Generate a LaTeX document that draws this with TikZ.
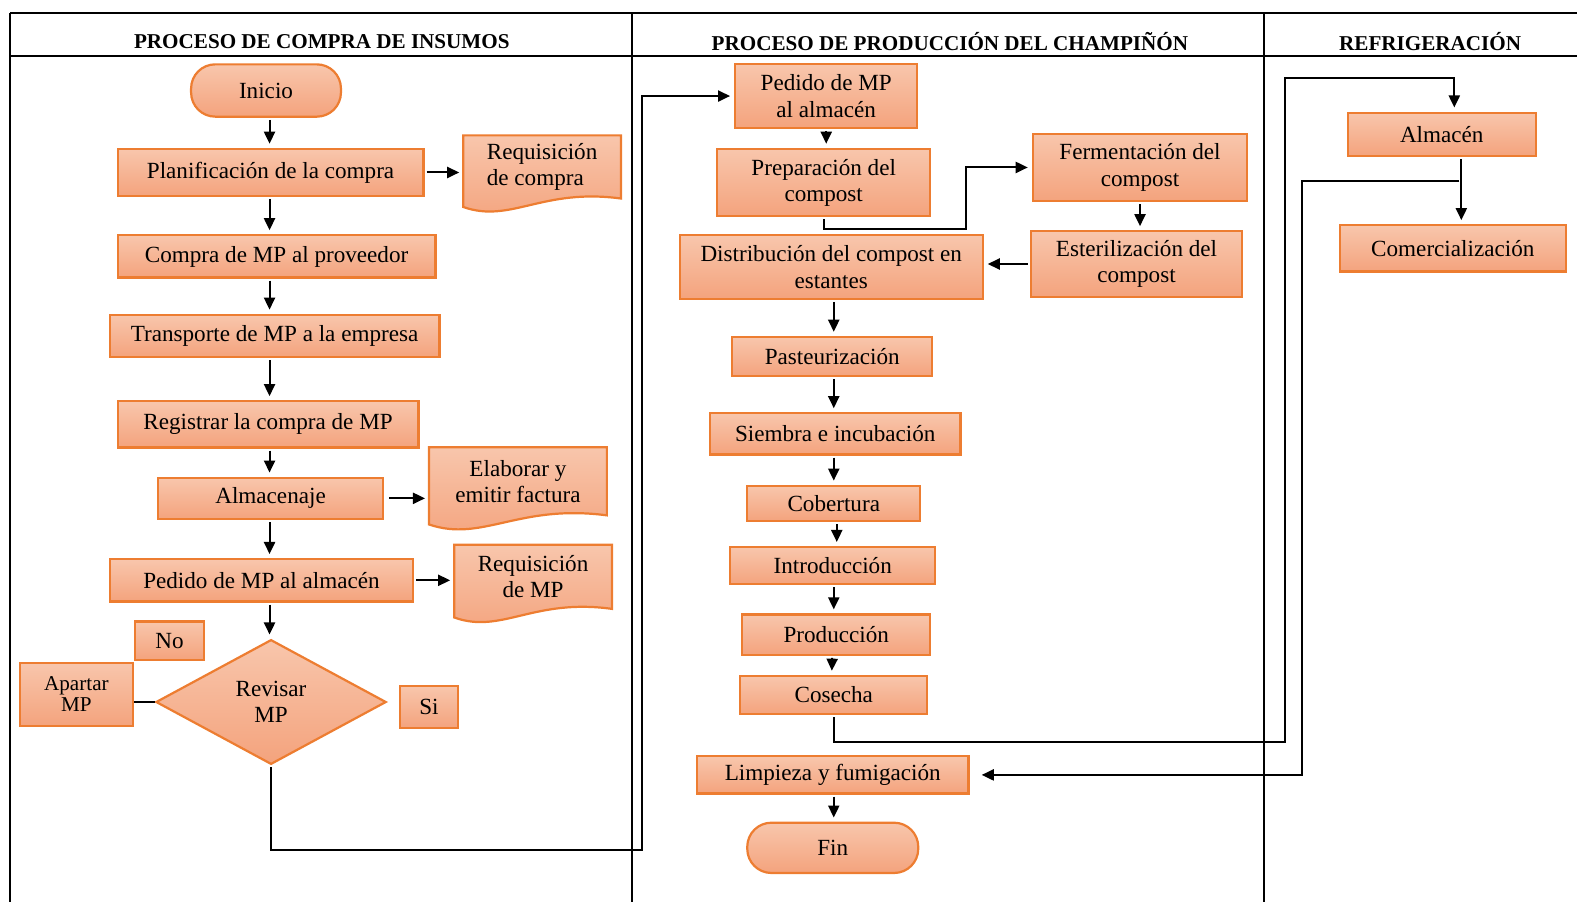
\documentclass[tikz,border=0pt]{standalone}
\usepackage{fontspec}
\setmainfont{Liberation Serif}
\usetikzlibrary{arrows.meta,shapes.geometric,calc,backgrounds}

\definecolor{naranja}{HTML}{ED7D31}
\definecolor{durazno}{HTML}{F8C6AC}
\definecolor{salmon}{HTML}{F4A37D}

\newcommand{\texto}{\fontsize{11.5}{13}\selectfont}
\newcommand{\titulo}{\fontsize{10.5}{12}\selectfont\bfseries}
\newcommand{\documento}[1]{%
  \path[hoja] let \p1=(#1.north west), \p2=(#1.south east), \n1={\x2-\x1}, \n2={\y1-\y2} in
    (\p1) -- (\x2,\y1) -- (\p2)
    .. controls ({\x1+0.5*\n1},{\y2+0.17*\n2}) and ({\x1+0.3*\n1},{\y2-0.40*\n2}) ..
    (\x1,{\y2-0.134*\n2}) -- cycle;}

\begin{document}
\begin{tikzpicture}[x=0.5pt,y=-0.5pt,
caja/.style={rectangle,draw=naranja,line width=1.1pt,top color=durazno,bottom color=salmon,align=center,inner sep=0,font=\texto},
terminal/.style={caja,rounded corners=12pt},
decision/.style={caja,diamond,aspect=1.85},
docu/.style={rectangle,align=center,inner sep=0,font=\texto},
hoja/.style={draw=naranja,line width=1.1pt,top color=durazno,bottom color=salmon},
flecha/.style={-{Triangle[length=6pt,width=5.5pt]},line width=1pt,shorten <=1pt,shorten >=2pt},
linea/.style={line width=1pt},
marco/.style={line width=0.9pt}]

\useasboundingbox (0,0) rectangle (1568,897);

% marco de los carriles
\draw[marco] (10,13) -- (1568,13);
\draw[marco] (10,56) -- (1568,56);
\draw[marco] (10,13) -- (10,897);
\draw[marco] (628,13) -- (628,897);
\draw[marco] (1257,13) -- (1257,897);
\node[font=\titulo] (tcompra) at (320,41) {PROCESO DE COMPRA DE INSUMOS};
\node[font=\titulo] (tproduccion) at (944.5,41) {PROCESO DE PRODUCCIÓN DEL CHAMPIÑÓN};
\node[font=\titulo] (trefrigeracion) at (1422,41) {REFRIGERACIÓN};

% compra de insumos
\coordinate (eje) at (268,0);
\node[terminal, minimum width=74.5pt, minimum height=26pt] (inicio) at (264.5,90) {Inicio};
\node[caja, minimum width=152pt, minimum height=23.5pt] (planif) at (269,171.5) {Planificación de la compra};
\node[docu, align=left, minimum width=78pt, minimum height=31pt] (reqcompra) at (539,166) {Requisición\\de compra};
\node[caja, minimum width=158pt, minimum height=21pt] (compra) at (275,255) {Compra de MP al proveedor};
\node[caja, minimum width=164pt, minimum height=21pt] (transporte) at (273,334) {Transporte de MP a la empresa};
\node[caja, minimum width=149.5pt, minimum height=23pt] (registro) at (266.5,422) {Registrar la compra de MP};
\node[caja, minimum width=112pt, minimum height=20.5pt] (almacenaje) at (269,495.5) {Almacenaje};
\node[docu, minimum width=88pt, minimum height=33.5pt] (factura) at (515,478.5) {Elaborar y\\emitir factura};
\node[caja, minimum width=151pt, minimum height=21pt] (pedidoa) at (260,577) {Pedido de MP al almacén};
\node[docu, minimum width=78pt, minimum height=31.5pt] (reqmp) at (530,573.5) {Requisición\\de MP};
\node[decision, minimum width=114.5pt, minimum height=62pt] (revisar) at (269.5,698) {Revisar\\MP};
\node[caja, minimum width=34.5pt, minimum height=19pt] (no) at (168.5,637) {No};
\node[caja, minimum width=56pt, minimum height=31.5pt, font=\fontsize{10.5}{10.5}\selectfont] (apartar) at (76,690.5) {Apartar\\MP};
\node[caja, minimum width=28.5pt, minimum height=21pt] (si) at (426.5,703) {Si};

\begin{pgfonlayer}{background}
\documento{reqcompra}
\documento{factura}
\documento{reqmp}
\end{pgfonlayer}

\draw[flecha] (inicio.south -| eje) -- (planif.north -| eje);
\draw[flecha] (planif.south -| eje) -- (compra.north -| eje);
\draw[flecha] (compra.south -| eje) -- (transporte.north -| eje);
\draw[flecha] (transporte.south -| eje) -- (registro.north -| eje);
\draw[flecha] (registro.south -| eje) -- (almacenaje.north -| eje);
\draw[flecha] (almacenaje.south -| eje) -- (pedidoa.north -| eje);
\draw[flecha] (pedidoa.south -| eje) -- (revisar.north -| eje);
\draw[flecha] (planif.east) -- (reqcompra.west |- planif.east);
\draw[flecha] (almacenaje.east) ++(3,0) -- (factura.west |- almacenaje.east);
\draw[flecha] (pedidoa.east) -- (reqmp.west |- pedidoa.east);
\draw[linea] (revisar.west -| apartar.east) -- (revisar.west);

% produccion del champinon
\coordinate (ejeb) at (829,0);
\node[caja, minimum width=90.5pt, minimum height=31.5pt] (pedidob) at (821.5,95.5) {Pedido de MP\\al almacén};
\node[caja, minimum width=106pt, minimum height=33.5pt] (preparacion) at (819,181.5) {Preparación del\\compost};
\node[caja, minimum width=106.5pt, minimum height=33.5pt] (fermentacion) at (1133.5,166.5) {Fermentación del\\compost};
\node[caja, minimum width=105pt, minimum height=32.5pt] (esterilizacion) at (1130,262.5) {Esterilización del\\compost};
\node[caja, minimum width=150.5pt, minimum height=31.5pt] (distribucion) at (826.5,265.5) {Distribución del compost en\\estantes};
\node[caja, minimum width=99.5pt, minimum height=19.5pt] (pasteurizacion) at (827.5,354.5) {Pasteurización};
\node[caja, minimum width=124.5pt, minimum height=20.5pt] (siembra) at (830.5,431.5) {Siembra e incubación};
\node[caja, minimum width=86pt, minimum height=17.5pt] (cobertura) at (829,500.5) {Cobertura};
\node[caja, minimum width=102pt, minimum height=18.5pt] (introduccion) at (828,562.5) {Introducción};
\node[caja, minimum width=93.5pt, minimum height=20pt] (produccion) at (831.5,631) {Producción};
\node[caja, minimum width=93pt, minimum height=19pt] (cosecha) at (829,691) {Cosecha};
\node[caja, minimum width=135pt, minimum height=18.5pt] (limpieza) at (828,770.5) {Limpieza y fumigación};
\node[terminal, minimum width=85pt, minimum height=25pt] (fin) at (828,843) {Fin};

\draw[flecha] (revisar.south) |- (638,845) |- (pedidob.west);
\draw[flecha] (pedidob.south) -- (preparacion.north -| pedidob.south);
\draw[flecha] (preparacion.south) |- (960,228) |- (fermentacion.west);
\draw[flecha] (fermentacion.south) -- (esterilizacion.north -| fermentacion.south);
\draw[flecha] (esterilizacion.west) -- (distribucion.east |- esterilizacion.west);
\draw[flecha] (distribucion.south -| ejeb) -- (pasteurizacion.north -| ejeb);
\draw[flecha] (pasteurizacion.south -| ejeb) -- (siembra.north -| ejeb);
\draw[flecha] (siembra.south -| ejeb) -- (cobertura.north -| ejeb);
\draw[flecha] (cobertura.south) ++(3,0) -- (introduccion.north -| 832,0);
\draw[flecha] (introduccion.south -| ejeb) -- (produccion.north -| ejeb);
\draw[flecha] (produccion.south) ++(-4,0) -- (cosecha.north -| 827,0);
\draw[flecha] (limpieza.south -| ejeb) -- (fin.north -| ejeb);

% refrigeracion
\node[caja, minimum width=93.5pt, minimum height=21.5pt] (almacen) at (1433.5,133.5) {Almacén};
\node[caja, minimum width=112.5pt, minimum height=23pt] (comercializacion) at (1444.5,247) {Comercialización};
\coordinate (giro) at (1446,78);
\coordinate (baja) at (1453,180);

\draw[flecha] (cosecha.south) |- (1278,738) |- (giro) -- (almacen.north -| giro);
\draw[flecha] (almacen.south -| baja) -- (comercializacion.north -| baja);
\draw[flecha, shorten >=6pt] (baja) -| (1295,770.5) -- (limpieza.east);

\end{tikzpicture}
\end{document}
